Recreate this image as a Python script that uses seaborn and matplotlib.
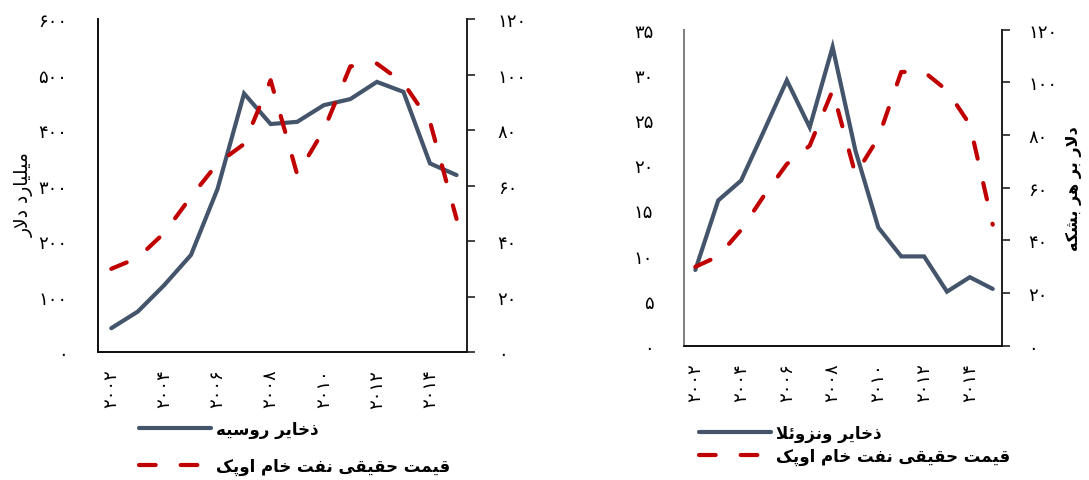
import matplotlib
matplotlib.use('Agg')
import matplotlib.pyplot as plt
import seaborn as sns
import pandas as pd

# Data
years = list(range(2002, 2016))
russia_reserves = [43, 73, 121, 175, 294, 466, 411, 415, 445, 456, 487, 469, 340, 319]
venezuela_reserves = [8.4, 16.1, 18.3, 23.8, 29.4, 24.2, 33.1, 21.6, 13.1, 9.9, 9.9, 6.0, 7.6, 6.3]
opec_price_left = [30, 34, 43, 56, 68, 75, 98, 64, 80, 103, 104, 97, 83, 48]
opec_price_right = [30, 34, 44, 57, 69, 76, 97, 65, 79, 104, 104, 97, 84, 46]

xtick_years = [2002, 2004, 2006, 2008, 2010, 2012, 2014]
left_yticks = [0, 100, 200, 300, 400, 500, 600]
right_yticks = [0, 5, 10, 15, 20, 25, 30, 35]
price_ticks = [0, 20, 40, 60, 80, 100, 120]

label_russia = 'ذخایر روسیه'
label_venezuela = 'ذخایر ونزوئلا'
label_price = 'قیمت حقیقی نفت خام اوپک'
ylabel_left = 'میلیارد دلار'
ylabel_right = 'دلار بر هر بشکه'

# --- minimal Persian shaping (matplotlib has no complex text layout) ---
FORMS = {
    'ا': ('\uFE8D', '\uFE8E', None, None),
    'ب': ('\uFE8F', '\uFE90', '\uFE91', '\uFE92'),
    'ت': ('\uFE95', '\uFE96', '\uFE97', '\uFE98'),
    'ح': ('\uFEA1', '\uFEA2', '\uFEA3', '\uFEA4'),
    'خ': ('\uFEA5', '\uFEA6', '\uFEA7', '\uFEA8'),
    'د': ('\uFEA9', '\uFEAA', None, None),
    'ذ': ('\uFEAB', '\uFEAC', None, None),
    'ر': ('\uFEAD', '\uFEAE', None, None),
    'ز': ('\uFEAF', '\uFEB0', None, None),
    'س': ('\uFEB1', '\uFEB2', '\uFEB3', '\uFEB4'),
    'ش': ('\uFEB5', '\uFEB6', '\uFEB7', '\uFEB8'),
    'ف': ('\uFED1', '\uFED2', '\uFED3', '\uFED4'),
    'ق': ('\uFED5', '\uFED6', '\uFED7', '\uFED8'),
    'ل': ('\uFEDD', '\uFEDE', '\uFEDF', '\uFEE0'),
    'م': ('\uFEE1', '\uFEE2', '\uFEE3', '\uFEE4'),
    'ن': ('\uFEE5', '\uFEE6', '\uFEE7', '\uFEE8'),
    'ه': ('\uFEE9', '\uFEEA', '\uFEEB', '\uFEEC'),
    'و': ('\uFEED', '\uFEEE', None, None),
    'ئ': ('\uFE89', '\uFE8A', '\uFE8B', '\uFE8C'),
    'پ': ('\uFB56', '\uFB57', '\uFB58', '\uFB59'),
    'ک': ('\uFB8E', '\uFB8F', '\uFB90', '\uFB91'),
    'ی': ('\uFBFC', '\uFBFD', '\uFBFE', '\uFBFF'),
}


def shape(text):
    out = []
    i = 0
    n = len(text)
    while i < n:
        c = text[i]
        if c not in FORMS:
            out.append(c)
            i += 1
            continue
        prev = text[i - 1] if i > 0 else ''
        join_prev = prev in FORMS and FORMS[prev][2] is not None
        if c == 'ل' and i + 1 < n and text[i + 1] == 'ا':
            out.append('\uFEFC' if join_prev else '\uFEFB')
            i += 2
            continue
        nxt = text[i + 1] if i + 1 < n else ''
        join_next = FORMS[c][2] is not None and nxt in FORMS
        iso, fin, ini, med = FORMS[c]
        if join_prev and join_next:
            out.append(med)
        elif join_prev:
            out.append(fin)
        elif join_next:
            out.append(ini)
        else:
            out.append(iso)
        i += 1
    return ''.join(out)[::-1]


def fa(num):
    return str(num).translate(str.maketrans('0123456789', '۰۱۲۳۴۵۶۷۸۹'))


sns.set_style('white')
plt.rcParams['font.family'] = ['DejaVu Sans']
plt.rcParams['text.color'] = 'black'
plt.rcParams['xtick.color'] = 'black'
plt.rcParams['ytick.color'] = 'black'

navy = '#44546A'
red = '#C00000'
lw = 3.0
dash = (0, (4, 6))
tick_fs = 13

df_left = pd.DataFrame({'year': years, 'reserves': russia_reserves, 'price': opec_price_left})
df_right = pd.DataFrame({'year': years, 'reserves': venezuela_reserves, 'price': opec_price_right})

fig = plt.figure(figsize=(10.89, 4.81), dpi=100)
ax1 = fig.add_axes([0.090, 0.266, 0.339, 0.692])
ax3 = fig.add_axes([0.628, 0.279, 0.292, 0.657])


def draw_panel(ax, df, res_label, yticks, ylim, left_pad, right_pad, left_spine_color):
    ax2 = ax.twinx()
    sns.lineplot(data=df, x='year', y='reserves', ax=ax, color=navy, linewidth=lw,
                 solid_capstyle='round', solid_joinstyle='miter', label=shape(res_label), legend=False)
    sns.lineplot(data=df, x='year', y='price', ax=ax2, color=red, linewidth=lw,
                 linestyle=dash, dash_capstyle='round', label=shape(label_price), legend=False)
    ax.set_xlim(2001.5, 2015.4)
    ax.set_ylim(*ylim)
    ax2.set_ylim(0, 120)
    ax.set_yticks(yticks)
    ax.set_yticklabels([fa(v) for v in yticks], fontsize=tick_fs)
    ax2.set_yticks(price_ticks)
    ax2.set_yticklabels([fa(v) for v in price_ticks], fontsize=tick_fs)
    ax.set_xticks(xtick_years)
    ax.set_xticklabels([fa(v) for v in xtick_years], rotation=90, fontsize=tick_fs)
    ax.tick_params(axis='x', length=0, pad=12)
    ax.tick_params(axis='y', length=0, pad=left_pad)
    ax2.tick_params(axis='y', length=6, width=1.2, color='#222222', pad=right_pad, direction='out')
    ax.set_xlabel('')
    ax.set_ylabel('')
    ax2.set_ylabel('')
    for a in (ax, ax2):
        a.spines['top'].set_visible(False)
        a.spines['left'].set_color(left_spine_color)
        a.spines['bottom'].set_color('#111111')
        a.spines['right'].set_color('#222222')
        for s in a.spines.values():
            s.set_linewidth(1.3)
    h1 = ax.get_lines()[0]
    h2 = ax2.get_lines()[0]
    return ax2, [h1, h2]


ax2, handles_left = draw_panel(ax1, df_left, label_russia, left_yticks, (0, 600), 22, 16, '#111111')
ax4, handles_right = draw_panel(ax3, df_right, label_venezuela, right_yticks, (0, 35), 22, 13, '#808080')

fig.text(0.022, 0.595, shape(ylabel_left), rotation=90, ha='center', va='center', fontsize=13.5)
fig.text(0.986, 0.607, shape(ylabel_right), rotation=90, ha='center', va='center',
         fontsize=11.5, fontweight='bold')

fig.legend(handles=handles_left, labels=[h.get_label() for h in handles_left],
           loc='upper left', bbox_to_anchor=(0.128, 0.126), frameon=False,
           prop={'size': 12, 'weight': 'bold'}, handlelength=4.3, handletextpad=0.3,
           labelspacing=1.15, borderpad=0, borderaxespad=0)
fig.legend(handles=handles_right, labels=[h.get_label() for h in handles_right],
           loc='upper left', bbox_to_anchor=(0.642, 0.117), frameon=False,
           prop={'size': 12, 'weight': 'bold'}, handlelength=4.3, handletextpad=0.3,
           labelspacing=0.3, borderpad=0, borderaxespad=0)

fig.savefig('out.png', dpi=100, facecolor='white')
